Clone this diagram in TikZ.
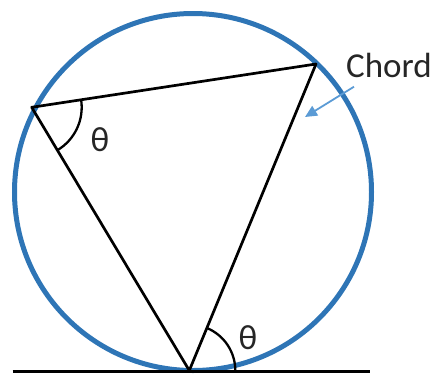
\documentclass[tikz,border=0pt]{standalone}
\usepackage{fontspec}
\setmainfont{Carlito}
\usetikzlibrary{arrows.meta}
\definecolor{ringblue}{RGB}{46,117,182}
\definecolor{pointblue}{RGB}{91,155,213}
\tikzset{
	side/.style={line width=2.7pt, black},
	anglearc/.style={line width=2.3pt, black},
	lbl/.style={font=\fontsize{35}{40}\selectfont, text=black!85, inner sep=0pt}
}

\begin{document}
\begin{tikzpicture}[x=1pt,y=-1pt]
		\useasboundingbox (0,0) rectangle (442,376);
		\coordinate (O) at (193,192);
		\coordinate (A) at (31.7,107.3);
		\coordinate (B) at (316,64);
		\coordinate (C) at (189.3,370.5);
		\coordinate (L) at (12.7,371.5);
		\coordinate (R) at (370,371.5);
		\draw[ringblue, line width=5pt] (O) circle (178.5);
		\draw[line width=3.4pt] (L) -- (R);
		\draw[side, line join=round] (A) -- (B) -- (C) -- cycle;
		%angles
		\draw[anglearc] ([shift={(-8.66:50)}]A) arc (-8.66:59.04:50);
		\draw[anglearc] ([xshift=46pt]C) arc (0:-67.5:46);
		\node[lbl] (t1) at (100,140) {θ};
		\node[lbl] (t2) at (248,338) {θ};
		\node[lbl, anchor=west] (chord) at (346,65) {Chord};
		\coordinate (p) at (354,86.7);
		\coordinate (q) at (305,117);
		\draw[pointblue, line width=1.8pt, -{Triangle[length=12pt,width=11pt]}] (p) -- (q);
\end{tikzpicture}
\end{document}
